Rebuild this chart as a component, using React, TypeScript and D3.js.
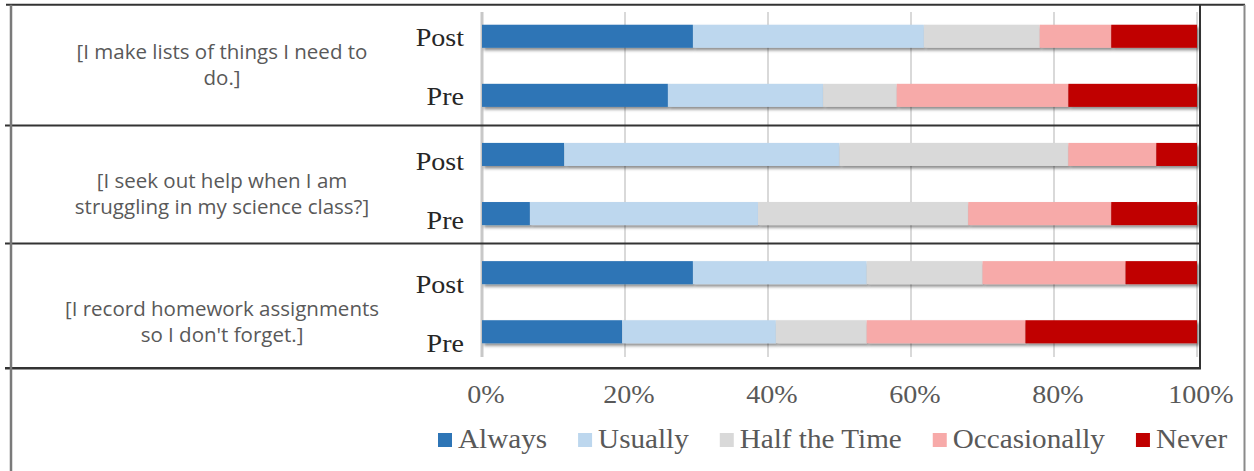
import { useEffect, useRef } from "react";
import * as d3 from "d3";

// Survey items (each split into the two lines shown on the left)
const questionLines = [
  ["[I make lists of things I need to", "do.]"],
  ["[I seek out help when I am", "struggling in my science class?]"],
  ["[I record homework assignments", "so I don't forget.]"],
];
const phases = ["Post", "Pre"];
const categories = ["Always", "Usually", "Half the Time", "Occasionally", "Never"];
const colors = ["#2e75b6", "#bdd7ee", "#d9d9d9", "#f7aaa9", "#c00000"];

// Percent per row: Q1 Post, Q1 Pre, Q2 Post, Q2 Pre, Q3 Post, Q3 Pre
const always = [29.5, 26, 11.5, 6.7, 29.5, 19.6];
const usually = [32.3, 21.7, 38.5, 31.9, 24.3, 21.5];
const halfTime = [16.2, 10.3, 32, 29.4, 16.2, 12.7];
const occasionally = [10, 24, 12.3, 20, 20, 22.2];
const never = [12, 18, 5.7, 12, 10, 24];

const tickValues = [0, 20, 40, 60, 80, 100];
const tickLabels = ["0%", "20%", "40%", "60%", "80%", "100%"];

const W = 1254;
const H = 471;
const SERIF = "'Liberation Serif', 'Times New Roman', serif";
const STRETCH = 1.08; // the serif text in the source is a bit wide

export default function App() {
  const ref = useRef<SVGSVGElement>(null);

  useEffect(() => {
    if (!ref.current) return;
    const svg = d3.select(ref.current);
    svg.selectAll("*").remove();

    const series = [always, usually, halfTime, occasionally, never];
    const rows = questionLines.flatMap((_, qi) =>
      phases.map((p, pi) => {
        const i = qi * 2 + pi;
        const r: any = { key: `${qi}-${p}`, q: qi, phase: p };
        categories.forEach((c, ci) => (r[c] = series[ci][i]));
        return r;
      })
    );

    const x = d3.scaleLinear().domain([0, 100]).range([482, 1197]);
    const y = d3
      .scaleBand<string>()
      .domain(rows.map((r) => r.key))
      .range([7, 361])
      .paddingInner(0.61)
      .paddingOuter(0.3);
    const bw = y.bandwidth();

    const defs = svg.append("defs");
    defs
      .append("filter")
      .attr("id", "shadow")
      .attr("x", "-5%")
      .attr("y", "-30%")
      .attr("width", "110%")
      .attr("height", "170%")
      .append("feDropShadow")
      .attr("dx", 2)
      .attr("dy", 2.5)
      .attr("stdDeviation", 1.8)
      .attr("flood-color", "#000")
      .attr("flood-opacity", 0.45);

    svg.append("rect").attr("width", W).attr("height", H).attr("fill", "#fff");

    // gridlines
    svg
      .append("g")
      .selectAll("line")
      .data(tickValues)
      .join("line")
      .attr("x1", (d) => x(d))
      .attr("x2", (d) => x(d))
      .attr("y1", 12)
      .attr("y2", 357)
      .attr("stroke", (d) => (d === 0 ? "#c8c8c8" : "#d9d9d9"))
      .attr("stroke-width", (d) => (d === 0 ? 3 : 2));

    // stacked bars
    const stacked = d3.stack<any>().keys(categories)(rows);
    svg
      .append("g")
      .selectAll("g")
      .data(stacked)
      .join("g")
      .attr("fill", (_, i) => colors[i])
      .attr("filter", "url(#shadow)")
      .selectAll("rect")
      .data((d) => d)
      .join("rect")
      .attr("x", (d) => x(d[0]))
      .attr("width", (d) => x(d[1]) - x(d[0]))
      .attr("y", (d) => y(d.data.key)!)
      .attr("height", bw);

    // Post / Pre labels
    svg
      .append("g")
      .selectAll("text")
      .data(rows)
      .join("text")
      .attr(
        "transform",
        (d) => `translate(464,${y(d.key)! + bw / 2 + 10 + d.q * 5.3}) scale(${STRETCH},1)`
      )
      .attr("text-anchor", "end")
      .attr("font-family", SERIF)
      .attr("font-size", 26)
      .attr("fill", "#262626")
      .text((d) => d.phase);

    // question labels
    const qg = svg.append("g");
    questionLines.forEach((lines, qi) => {
      const c =
        (y(`${qi}-Post`)! + y(`${qi}-Pre`)! + bw) / 2 + 1 + qi * 10.5;
      const t = qg
        .append("text")
        .attr("text-anchor", "middle")
        .attr("font-family", "'Open Sans', sans-serif")
        .attr("font-size", 20.5)
        .attr("fill", "#595959");
      lines.forEach((l, li) => {
        t.append("tspan")
          .attr("x", 222)
          .attr("y", c + 5 + (li - (lines.length - 1) / 2) * 26)
          .text(l);
      });
    });

    // frame lines
    const keys = rows.map((r) => r.key);
    const top = y(keys[0])! - 20;
    const bottom = y(keys[keys.length - 1])! + bw + 25;
    const seps = [1, 3].map((i) => (y(keys[i])! + bw + y(keys[i + 1])!) / 2 + 0.5);
    const frame = svg.append("g").attr("fill", "none");
    frame.append("line").attr("x1", 6).attr("x2", 1245).attr("y1", top).attr("y2", top).attr("stroke", "#333").attr("stroke-width", 2);
    seps.concat([bottom]).forEach((s, i) =>
      frame
        .append("line")
        .attr("x1", 5)
        .attr("x2", 1201)
        .attr("y1", s)
        .attr("y2", s)
        .attr("stroke", "#333")
        .attr("stroke-width", i === 2 ? 2.5 : 2)
    );
    frame.append("line").attr("x1", 11).attr("x2", 11).attr("y1", top).attr("y2", H).attr("stroke", "#7a7a7a").attr("stroke-width", 2.5);
    frame.append("line").attr("x1", 1200).attr("x2", 1200).attr("y1", top).attr("y2", bottom).attr("stroke", "#333").attr("stroke-width", 2);
    frame.append("line").attr("x1", 1244.5).attr("x2", 1244.5).attr("y1", top).attr("y2", H).attr("stroke", "#8a8a8a").attr("stroke-width", 2);

    // x tick labels
    svg
      .append("g")
      .selectAll("text")
      .data(tickValues)
      .join("text")
      .attr("transform", (d) => `translate(${x(d) + 4},403) scale(${STRETCH},1)`)
      .attr("text-anchor", "middle")
      .attr("font-family", SERIF)
      .attr("font-size", 26)
      .attr("fill", "#595959")
      .text((_, i) => tickLabels[i]);

    // legend
    const lg = svg.append("g");
    let lx = 438;
    categories.forEach((c, i) => {
      lg.append("rect").attr("x", lx).attr("y", 433).attr("width", 14).attr("height", 14).attr("fill", colors[i]);
      const t = lg
        .append("text")
        .attr("transform", `translate(${lx + 20},448) scale(${STRETCH},1)`)
        .attr("font-family", SERIF)
        .attr("font-size", 27)
        .attr("fill", "#595959")
        .text(c);
      const w = (t.node() as SVGTextElement).getComputedTextLength() * STRETCH;
      lx += 20 + w + 31;
    });
  }, []);

  return (
    <svg
      ref={ref}
      width={W}
      height={H}
      style={{ position: "absolute", left: 0, top: 0 }}
    />
  );
}
